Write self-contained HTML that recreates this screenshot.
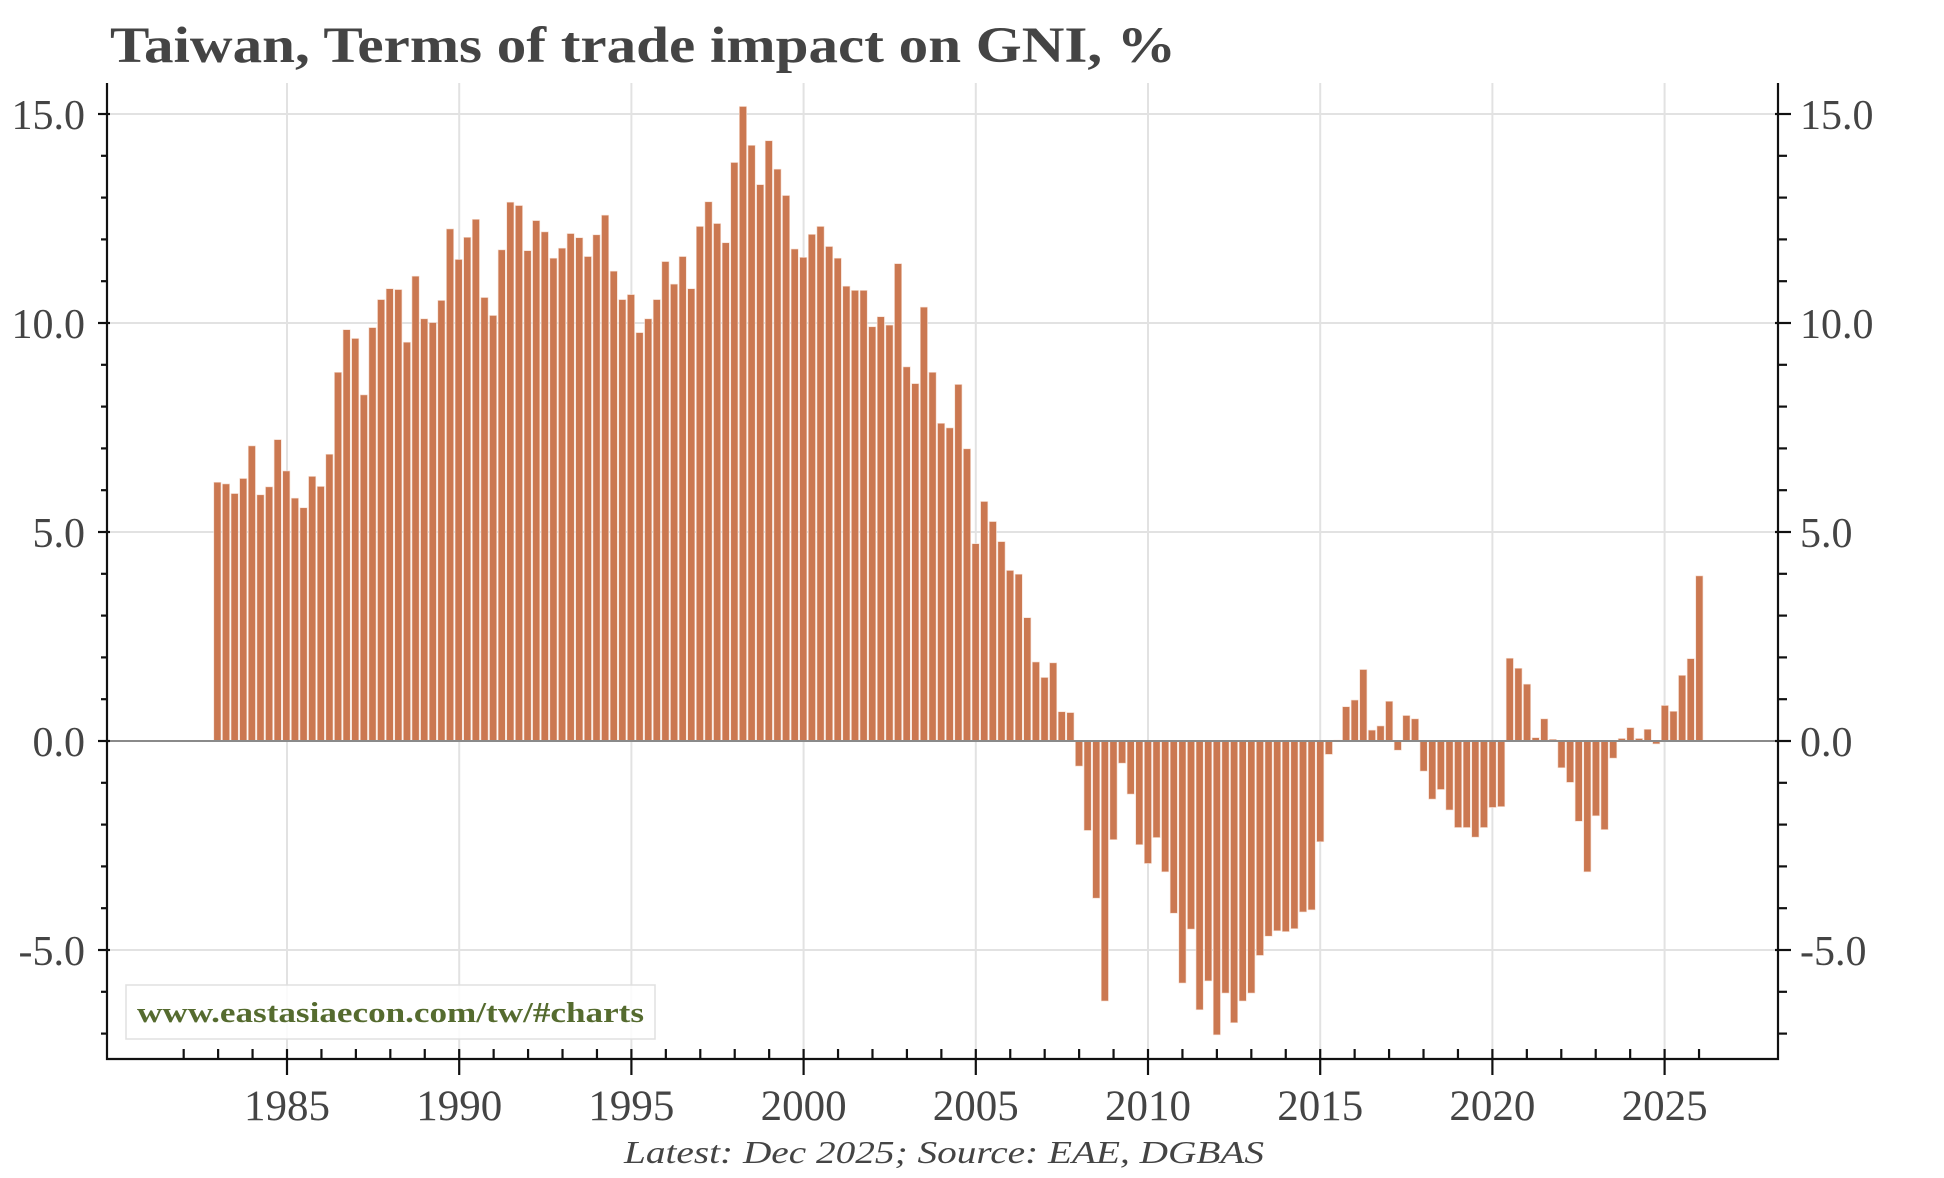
<!DOCTYPE html>
<html><head><meta charset="utf-8"><style>
html,body{margin:0;padding:0;background:#fff;}
svg{display:block;}
text{font-family:"Liberation Serif",serif;}
</style></head><body>
<svg id="c" width="1944" height="1178" viewBox="0 0 1944 1178" xmlns="http://www.w3.org/2000/svg">
<rect width="1944" height="1178" fill="#fff"/>
<text x="110" y="62" font-size="51" font-weight="bold" fill="#444" textLength="1066" lengthAdjust="spacingAndGlyphs">Taiwan, Terms of trade impact on GNI, %</text>
<g id="grid" stroke="#e2e2e2" stroke-width="2"></g>
<g id="bars"></g>
<line x1="107" y1="741" x2="1778" y2="741" stroke="#8a8a8a" stroke-width="2"/>
<g id="axes" stroke="#111" stroke-width="2.2" fill="none"></g>
<g font-size="42" fill="#444">
<text x="85" y="129" text-anchor="end">15.0</text>
<text x="85" y="338" text-anchor="end">10.0</text>
<text x="85" y="547" text-anchor="end">5.0</text>
<text x="85" y="756" text-anchor="end">0.0</text>
<text x="85" y="965" text-anchor="end">-5.0</text>
<text x="1800" y="129">15.0</text>
<text x="1800" y="338">10.0</text>
<text x="1800" y="547">5.0</text>
<text x="1800" y="756">0.0</text>
<text x="1800" y="965">-5.0</text>
</g>
<g font-size="43" fill="#444" text-anchor="middle">
<text x="287" y="1120">1985</text>
<text x="459.2" y="1120">1990</text>
<text x="631.4" y="1120">1995</text>
<text x="803.6" y="1120">2000</text>
<text x="975.8" y="1120">2005</text>
<text x="1148" y="1120">2010</text>
<text x="1320.2" y="1120">2015</text>
<text x="1492.4" y="1120">2020</text>
<text x="1664.6" y="1120">2025</text>
</g>
<text x="624" y="1163" font-size="32" font-style="italic" fill="#444" textLength="640" lengthAdjust="spacingAndGlyphs">Latest: Dec 2025; Source: EAE, DGBAS</text>
<rect x="126" y="985" width="529" height="54" fill="#fff" fill-opacity="0.85" stroke="#e0e0e0" stroke-width="1.5"/>
<text x="137" y="1022" font-size="28" font-weight="bold" fill="#556b2f" textLength="507" lengthAdjust="spacingAndGlyphs">www.eastasiaecon.com/tw/#charts</text>
</svg>
<script>
var NS="http://www.w3.org/2000/svg";
function el(p,t,a){var e=document.createElementNS(NS,t);for(var k in a)e.setAttribute(k,a[k]);p.appendChild(e);return e;}
function Y(v){return 741-v*41.8;}
function X(y){return 287+(y-1985)*34.44;}
var g=document.getElementById('grid'),ax=document.getElementById('axes'),b=document.getElementById('bars');
[15,10,5,0,-5].forEach(function(v){el(g,'line',{x1:107,x2:1778,y1:Y(v),y2:Y(v)});});
for(var yr=1985;yr<=2025;yr+=5)el(g,'line',{x1:X(yr),x2:X(yr),y1:83,y2:1059});
var d=[6.19,6.15,5.92,6.28,7.06,5.89,6.08,7.21,6.46,5.81,5.58,6.33,6.09,6.86,8.82,9.84,9.63,8.28,9.89,10.56,10.82,10.80,9.54,11.12,10.10,10.01,10.54,12.25,11.52,12.05,12.48,10.61,10.18,11.75,12.89,12.81,11.73,12.45,12.18,11.55,11.79,12.14,12.04,11.59,12.11,12.58,11.24,10.56,10.68,9.77,10.10,10.56,11.47,10.93,11.59,10.82,12.31,12.90,12.38,11.92,13.84,15.18,14.25,13.31,14.36,13.68,13.05,11.77,11.57,12.12,12.31,11.83,11.55,10.88,10.78,10.78,9.91,10.15,9.95,11.42,8.95,8.55,10.38,8.82,7.60,7.49,8.53,6.99,4.72,5.73,5.25,4.77,4.08,3.99,2.95,1.89,1.52,1.87,0.70,0.68,-0.60,-2.14,-3.76,-6.22,-2.36,-0.53,-1.27,-2.48,-2.93,-2.31,-3.13,-4.12,-5.79,-4.50,-6.43,-5.74,-7.03,-6.03,-6.74,-6.22,-6.03,-5.13,-4.67,-4.54,-4.56,-4.49,-4.09,-4.04,-2.41,-0.32,0.02,0.82,0.98,1.71,0.26,0.36,0.95,-0.22,0.61,0.53,-0.72,-1.39,-1.16,-1.65,-2.07,-2.07,-2.30,-2.07,-1.59,-1.57,1.98,1.74,1.36,0.08,0.53,0.04,-0.64,-0.99,-1.92,-3.13,-1.79,-2.12,-0.41,0.06,0.32,0.06,0.28,-0.07,0.85,0.71,1.57,1.97,3.95];
d.forEach(function(v,i){var cx=217.4+i*8.616,y0=Y(0),y1=Y(v);
el(b,'rect',{x:cx-3.6,y:Math.min(y0,y1),width:7.2,height:Math.max(Math.abs(y1-y0),0.5),fill:'#cb7851',stroke:'#f6ddd0','stroke-width':0.6});});
el(ax,'polyline',{points:'107,83 107,1059 1778,1059 1778,83'});
for(var v=-7;v<=15;v++){var big=(v%5===0);
el(ax,'line',{x1:big?98:101,x2:big?110:107,y1:Y(v),y2:Y(v)});
el(ax,'line',{x1:big?1775:1778,x2:big?1791:1787,y1:Y(v),y2:Y(v)});}
for(var yr=1982;yr<=2026;yr++){var big=(yr%5===0);
el(ax,'line',{x1:X(yr),x2:X(yr),y1:1049,y2:big?1075:1059});}
</script>
</body></html>
